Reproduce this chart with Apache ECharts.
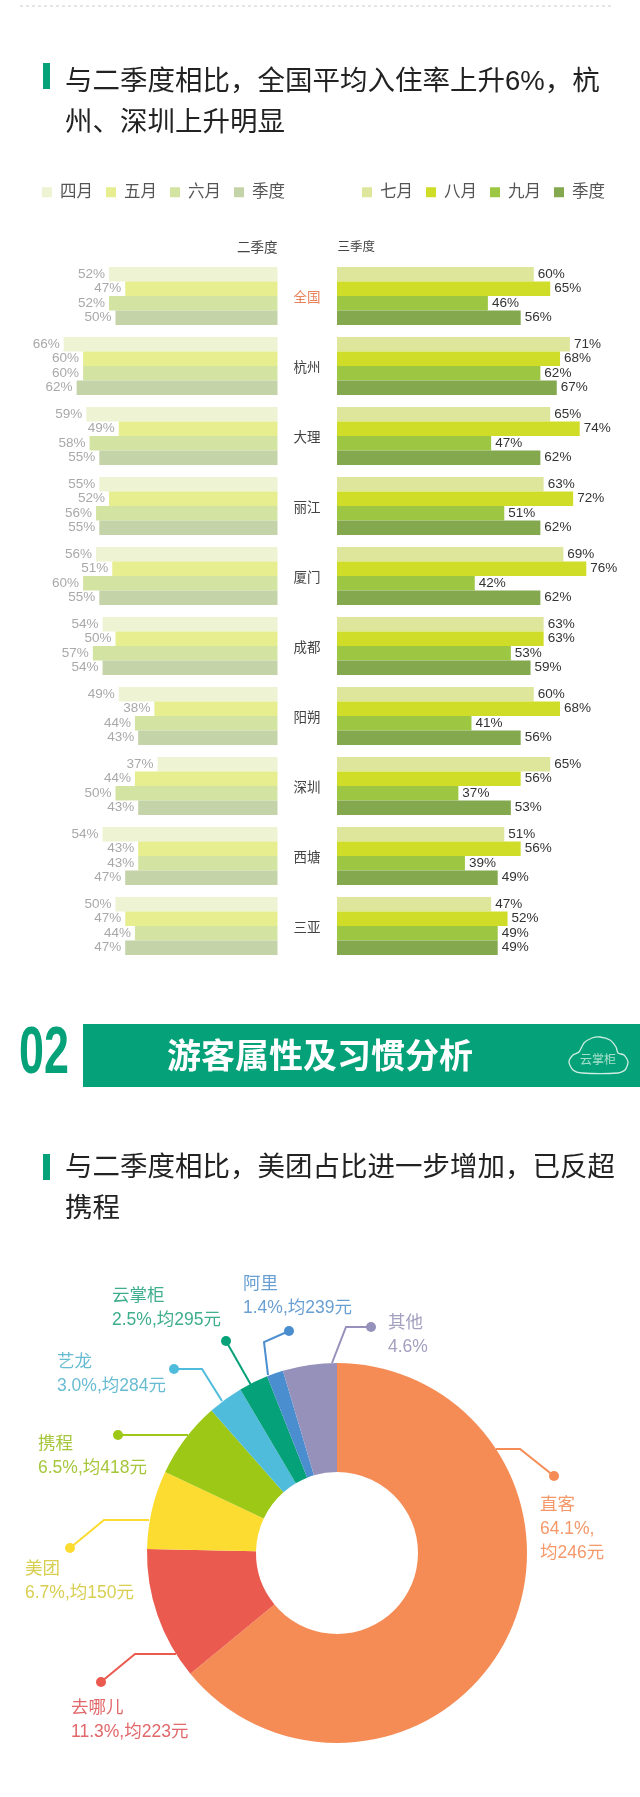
<!DOCTYPE html>
<html><head><meta charset="utf-8">
<style>html,body{margin:0;padding:0;background:#fff}#c{width:640px;height:1797px}</style>
<script src="https://cdn.jsdelivr.net/npm/echarts@6/dist/echarts.min.js"></script>
</head><body><div id="c"></div>
<script>
const cities = ['全国','杭州','大理','丽江','厦门','成都','阳朔','深圳','西塘','三亚'];
const q2Names = ['四月','五月','六月','季度'];
const q3Names = ['七月','八月','九月','季度'];
const apr = [52,66,59,55,56,54,49,37,54,50];
const may = [47,60,49,52,51,50,38,44,43,47];
const jun = [52,60,58,56,60,57,44,50,43,44];
const q2 = [50,62,55,55,55,54,43,43,47,47];
const jul = [60,71,65,63,69,63,60,65,51,47];
const aug = [65,68,74,72,76,63,68,56,56,52];
const sep = [46,62,47,51,42,53,41,37,39,49];
const q3 = [56,67,62,62,62,59,56,53,49,49];
const channels = ['直客','去哪儿','美团','携程','艺龙','云掌柜','阿里','其他'];
const shares = [64.1,11.3,6.7,6.5,3.0,2.5,1.4,4.6];
const avgPrice = [246,223,150,418,284,295,239,null];

const q2Colors = ['#eef3d3','#e6ee90','#d3e3a2','#c5d4a8'];
const q3Colors = ['#dee69c','#d0dd28','#9dc643','#84a84e'];
const pieColors = ['#f58c55','#ea5a4e','#fcdc30','#9dc815','#50bcdc','#05a178','#4a8ecf','#9591bb'];
const pieText = ['#f5986a','#e2676a','#d8cf52','#a6c73c','#68bcd2','#3fae8d','#6a9fd2','#a3a0c0'];
const CJK = '"Liberation Sans","Noto Sans CJK SC",sans-serif';
const GREEN = '#05a178';

// label text placement and leader routes for the donut
const pieLayout = [
  {x:540,y:1493,pts:[[496,1449],[520,1449],[554,1476]]},
  {x:71,y:1696,pts:[[176,1654],[135,1654],[101,1682]]},
  {x:25,y:1557,pts:[[149,1520],[104,1520],[70,1548]]},
  {x:38,y:1432,pts:[[188,1435],[118,1435]]},
  {x:57,y:1350,pts:[[222,1401],[202,1369],[174,1369]]},
  {x:112,y:1284,pts:[[251,1385],[226,1341]]},
  {x:243,y:1272,pts:[[268,1375],[264,1342],[289,1331]]},
  {x:388,y:1311,pts:[[332,1363],[346,1327],[371,1327]]}
];

function barSeries(name,data,color,idx,side){
  return {type:'bar',name,data,xAxisIndex:idx,yAxisIndex:idx,barWidth:14.5,barGap:0,
    itemStyle:{color},silent:true,
    label:{show:true,position:side,distance:4,formatter:'{c}%',fontSize:13.5,fontFamily:CJK,
      color:idx===0?'#a9a9a9':'#333'}};
}
function legendData(names,colors){return names.map((n,i)=>({name:n,itemStyle:{color:colors[i]}}));}

const graphics = [
  {type:'line',shape:{x1:20,y1:6,x2:611,y2:6},style:{stroke:'#ccc',lineWidth:1,lineDash:[3,3]}},
  {type:'rect',shape:{x:43,y:63,width:7,height:26},style:{fill:GREEN}},
  {type:'rect',shape:{x:43,y:1154,width:7,height:26},style:{fill:GREEN}},
  {type:'text',x:277.5,y:248,style:{text:'二季度',fontSize:13.5,fontFamily:CJK,fill:'#444',align:'right',verticalAlign:'middle'}},
  {type:'text',x:337.5,y:248,style:{text:'三季度',fontSize:12.5,fontFamily:CJK,fill:'#444',align:'left',verticalAlign:'middle'}},
  {type:'rect',shape:{x:83,y:1024,width:557,height:63},style:{fill:GREEN}},
  {type:'text',x:19,y:1055,scaleX:0.68,style:{text:'02',fontSize:66,fontWeight:'bold',fontFamily:'"Liberation Sans",sans-serif',fill:GREEN,align:'left',verticalAlign:'middle'}},
  {type:'text',x:320,y:1055,style:{text:'游客属性及习惯分析',fontSize:34,fontWeight:'bold',fontFamily:'"Noto Sans CJK SC",sans-serif',fill:'#fff',align:'center',verticalAlign:'middle'}},
  {type:'polygon',shape:{smooth:0.25,points:[[582,1073],[573,1070],[569,1062],[573,1055],[579,1052],[584,1043],[592,1038],[600,1037],[610,1040],[616,1047],[618,1053],[624,1055],[628,1062],[625,1070],[618,1073]]},style:{fill:'none',stroke:'#cdeee2',lineWidth:1.3}},
  {type:'text',x:598,y:1061,style:{text:'云掌柜',fontSize:12,fontFamily:CJK,fill:'#a6e0cd',align:'center',verticalAlign:'middle'}}
];
pieLayout.forEach((p,i)=>{
  const e=p.pts[p.pts.length-1];
  graphics.push({type:'circle',z:5,shape:{cx:e[0],cy:e[1],r:5},style:{fill:pieColors[i]}});
});

const chart = echarts.init(document.getElementById('c'),null,{renderer:'canvas'});
chart.setOption({
  animation:false,backgroundColor:'#fff',
  title:[
    {text:'与二季度相比，全国平均入住率上升6%，杭\n州、深圳上升明显',left:65,top:62,padding:0,
     textStyle:{fontSize:27.5,lineHeight:41,fontWeight:'normal',color:'#222',fontFamily:CJK}},
    {text:'与二季度相比，美团占比进一步增加，已反超\n携程',left:65,top:1148,padding:0,
     textStyle:{fontSize:27.5,lineHeight:41,fontWeight:'normal',color:'#222',fontFamily:CJK}}
  ],
  legend:[
    {data:legendData(q2Names,q2Colors),left:42,top:184,padding:0,itemWidth:10,itemHeight:10,itemGap:13,icon:'rect',selectedMode:false,
     textStyle:{fontSize:16.5,color:'#555',fontFamily:CJK,padding:[0,0,0,3]}},
    {data:legendData(q3Names,q3Colors),left:362,top:184,padding:0,itemWidth:10,itemHeight:10,itemGap:13,icon:'rect',selectedMode:false,
     textStyle:{fontSize:16.5,color:'#555',fontFamily:CJK,padding:[0,0,0,3]}}
  ],
  grid:[
    {left:18.3,width:259.2,top:261,height:700},
    {left:337,width:262.4,top:261,height:700}
  ],
  xAxis:[
    {gridIndex:0,type:'value',min:0,max:80,inverse:true,show:false},
    {gridIndex:1,type:'value',min:0,max:80,show:false}
  ],
  yAxis:[
    {gridIndex:0,type:'category',data:cities,inverse:true,show:false},
    {gridIndex:1,type:'category',data:cities,inverse:true,
     axisLine:{show:false},axisTick:{show:false},
     axisLabel:{margin:30,align:'center',fontSize:13.5,fontFamily:CJK,color:'#444',padding:[4,0,0,0],
       formatter:v=>v==='全国'?'{hl|'+v+'}':v,rich:{hl:{color:'#e8825a',fontSize:13.5,fontFamily:CJK}}}}
  ],
  series:[
    barSeries(q2Names[0],apr,q2Colors[0],0,'left'),
    barSeries(q2Names[1],may,q2Colors[1],0,'left'),
    barSeries(q2Names[2],jun,q2Colors[2],0,'left'),
    barSeries(q2Names[3],q2,q2Colors[3],0,'left'),
    barSeries(q3Names[0],jul,q3Colors[0],1,'right'),
    barSeries(q3Names[1],aug,q3Colors[1],1,'right'),
    barSeries(q3Names[2],sep,q3Colors[2],1,'right'),
    barSeries(q3Names[3],q3,q3Colors[3],1,'right'),
    {type:'pie',center:[337,1553],radius:[81,190],startAngle:90,clockwise:true,silent:true,
     data:channels.map((n,i)=>({name:n,value:shares[i],itemStyle:{color:pieColors[i]},
       label:{color:pieText[i]},labelLine:{lineStyle:{color:pieColors[i]}}})),
     label:{show:true,fontSize:17.5,lineHeight:24,fontFamily:CJK,align:'left',verticalAlign:'top',overflow:'none',
       formatter:p=>{
         const i=p.dataIndex,v=shares[i].toFixed(1)+'%';
         if(avgPrice[i]==null) return channels[i]+'\n'+v;
         if(i===0) return channels[i]+'\n'+v+',\n均'+avgPrice[i]+'元';
         return channels[i]+'\n'+v+',均'+avgPrice[i]+'元';
       }},
     labelLine:{show:true,lineStyle:{width:2}},
     labelLayout:params=>{
       const p=pieLayout[params.dataIndex];
       return {x:p.x,y:p.y,width:200,align:'left',verticalAlign:'top',hideOverlap:false,labelLinePoints:p.pts};
     }}
  ],
  graphic:graphics
});
</script></body></html>
